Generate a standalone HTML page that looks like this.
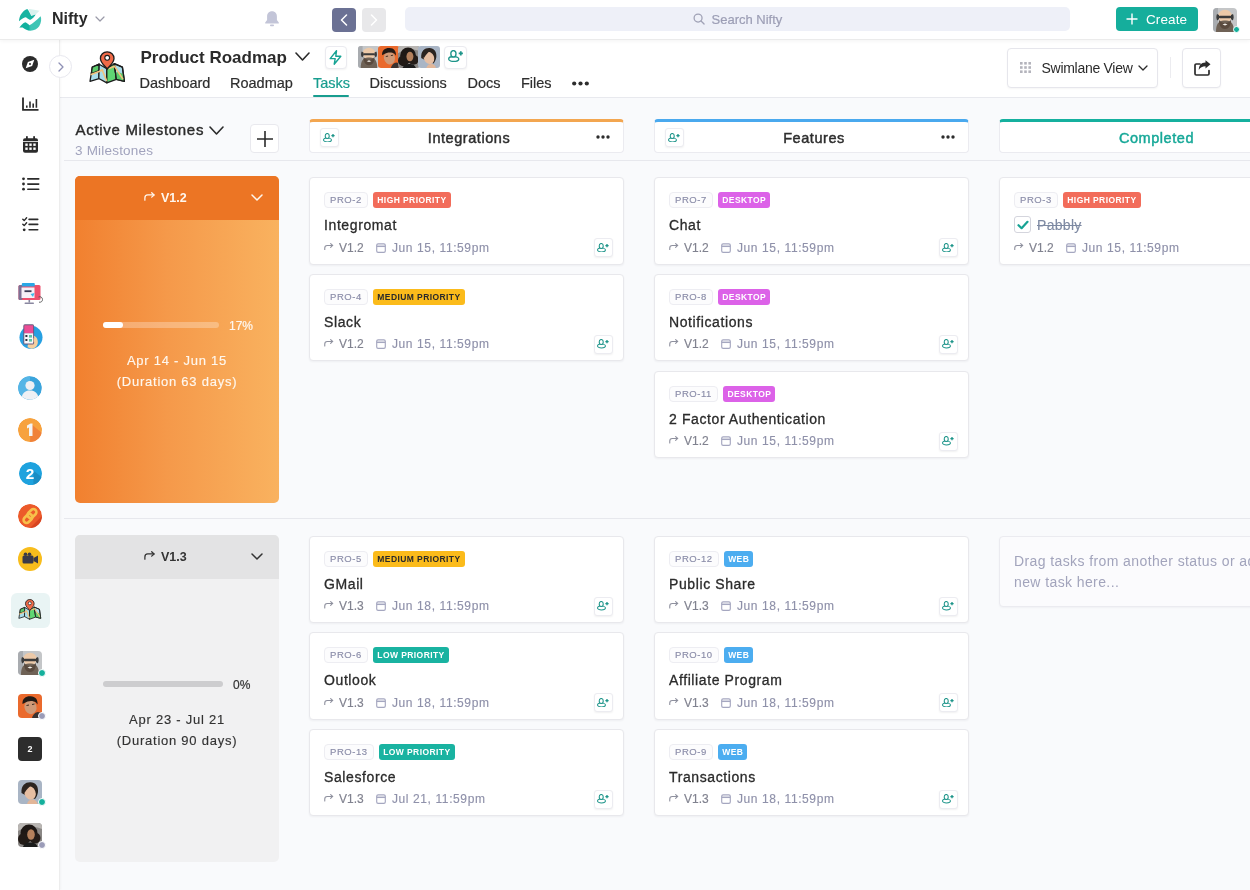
<!DOCTYPE html><html><head><meta charset="utf-8"><title>Nifty - Product Roadmap</title><style>
*{box-sizing:border-box;margin:0;padding:0}
svg{display:block}
html,body{width:1250px;height:890px;overflow:hidden}
body{background:#f9fafc;font-family:"Liberation Sans", Arial, sans-serif;color:#2d2d2d;position:relative}
.abs{position:absolute}
#top{position:absolute;left:0;top:0;width:1250px;height:38.5px;background:#fff;box-shadow:0 1px 0 #ebebeb,0 2px 4px rgba(0,0,0,.05);z-index:3}
#side{position:absolute;left:0;top:38px;width:59.5px;height:852px;background:#fff;border-right:1px solid #ededed;box-shadow:1px 0 2px rgba(0,0,0,.03);z-index:2}
#phdr{position:absolute;left:59px;top:38px;width:1191px;height:60px;background:#fff;border-bottom:1px solid #e8e9ee}
.card{position:absolute;width:315px;height:87.5px;background:#fff;border:1px solid #e8e8ec;border-radius:4px;box-shadow:0 1px 2px rgba(30,30,60,.05)}
.bdg{position:absolute;left:14px;top:14px;display:flex;gap:5.5px}
.pro{height:16px;padding:0 5px;border:1px solid #ededf2;background:#fcfcfd;border-radius:4px;font-size:9.5px;line-height:14px;color:#8a8ca8;letter-spacing:.55px;-webkit-text-stroke:.15px #8a8ca8}
.badge{height:16px;padding:0 4px;border-radius:3px;font-size:8.5px;line-height:16px;font-weight:700;letter-spacing:.42px}
.ttl{position:absolute;left:14px;top:39px;font-size:14px;line-height:16px;letter-spacing:.6px;color:#2b2b2b;white-space:nowrap;-webkit-text-stroke:.3px #2b2b2b}
.meta{position:absolute;left:14px;top:62.6px;height:14px;font-size:12px;line-height:14px;color:#8f91aa;white-space:nowrap;-webkit-text-stroke:.15px currentColor}
.meta span{position:absolute;top:0}
.ai{left:0;top:2px!important}
.ver{left:15px;letter-spacing:0;color:#80828f}
.ci{left:52px;top:2px!important}
.date{left:68px;letter-spacing:.6px}
.au{position:absolute;right:10px;top:60px;width:19px;height:19px;border:1px solid #ececf1;border-radius:3px;background:#fff;box-shadow:0 1px 2px rgba(0,0,0,.06);display:flex;align-items:center;justify-content:center}
.cb{position:absolute;left:0;top:-1px;width:17px;height:17px;border:1px solid #d4d5dd;border-radius:3px;display:flex;align-items:center;justify-content:center;background:#fff}
.done s{position:absolute;left:23px;color:#7d89a2;letter-spacing:.3px;-webkit-text-stroke:.1px #7d89a2}
.colh{position:absolute;top:119px;width:315px;height:34px;background:#fff;border:1px solid #ebebf0;border-top:3px solid;border-radius:4px;font-size:14.5px;font-weight:400;-webkit-text-stroke:.45px currentColor;text-align:center;line-height:29px;padding-top:2px;padding-left:5px;letter-spacing:.55px;color:#2e2e2e}
.colh .au2{position:absolute;left:10px;top:6px;width:19px;height:19px;border:1px solid #ececf1;border-radius:3px;background:#fff;box-shadow:0 1px 2px rgba(0,0,0,.06);display:flex;align-items:center;justify-content:center}
.colh .dots{position:absolute;right:13px;top:13px;width:14px;height:4px}
.hline{position:absolute;left:64px;width:1186px;height:1px;background:#e7e8ed}
.ms{position:absolute;left:75px;width:204px;height:327px;border-radius:5px;overflow:hidden}
.msh{position:absolute;left:0;top:0;width:204px;height:44px}
.msh .v{position:absolute;left:86px;top:15px;font-size:12.5px;font-weight:700;line-height:14px}
.msh .ar{position:absolute;left:69px;top:16px}
.msh .chev{position:absolute;left:176px;top:18px}
.pbar{position:absolute;left:28px;height:6px;border-radius:3px}
.pct{position:absolute;font-size:12px;line-height:12px;-webkit-text-stroke:.2px currentColor}
.dt{position:absolute;left:0;width:204px;text-align:center;font-size:13px;line-height:21px;letter-spacing:.75px;-webkit-text-stroke:.15px currentColor}
.nav{position:absolute;top:75px;font-size:14.5px;line-height:17px;color:#2e2e2e;white-space:nowrap;-webkit-text-stroke:.2px currentColor}
.sico{position:absolute;left:22px}
</style></head><body><div id="top"><svg class="abs" style="left:19px;top:9px" width="23" height="22" viewBox="0 0 23 22"><defs><linearGradient id="lg1" x1="0" x2="1" y1="0" y2="0"><stop offset="0.42" stop-color="#12b09e"/><stop offset="0.52" stop-color="#3fc5b5"/></linearGradient></defs><path d="M9.5 -0.3L20.5 1.8L16.6 5.4L12.4 6.7Z" fill="#d9f2ee"/><path d="M0 12.3C0.3 6.5 3.5 1.8 8.3 0C10 1.8 11.3 5 12.3 6.9C13.6 6.6 15 6 16.6 5.4C15.8 7.2 13.5 9.5 11.5 10.8C10.5 10.8 9.5 10.3 6.9 8.3C5.5 8.3 3 9.6 0 12.3Z" fill="#17b3a1"/><path d="M0.4 18.7C1.5 16.8 3.5 14.5 6.2 13.3C7.8 13.8 9 15 10.5 16.2C13.5 14.5 18 11 21.6 7.2C22.6 9.5 22.4 13.5 20.2 17.3C18.4 20 15.1 21.6 11.5 21.8C8.5 21.8 6 20.5 3.6 18.6C2.5 18.4 1.5 18.5 0.4 18.7Z" fill="url(#lg1)"/></svg><div class="abs" style="left:52px;top:10px;font-size:16px;font-weight:700;line-height:18px;color:#2a2a2a">Nifty</div><div class="abs" style="left:95px;top:16px"><svg width="10" height="6" viewBox="0 0 10 6" fill="none" stroke="#9a9aa8" stroke-width="1.2" stroke-linecap="round" stroke-linejoin="round"><path d="M1 1L5.0 5L9 1"/></svg></div><svg class="abs" style="left:264px;top:10px" width="16" height="17" viewBox="0 0 16 17"><path d="M8 1.2c-3 0-4.9 2.2-4.9 5.2v3.6L1.2 12.6v.8h13.6v-.8l-1.9-2.6V6.4C12.9 3.4 11 1.2 8 1.2z" fill="#c3c5d8"/><rect x="6" y="14.6" width="4" height="1.6" rx=".8" fill="#c3c5d8"/></svg><div class="abs" style="left:332px;top:8px;width:24px;height:24px;border-radius:4px;background:#6b7194"><svg class="abs" style="left:8px;top:6px" width="8" height="12" viewBox="0 0 8 12" fill="none" stroke="#fff" stroke-width="1.5" stroke-linecap="round" stroke-linejoin="round"><path d="M6.5 1L1.5 6L6.5 11"/></svg></div><div class="abs" style="left:362px;top:8px;width:24px;height:24px;border-radius:4px;background:#e8e8ea"><svg class="abs" style="left:8px;top:6px" width="8" height="12" viewBox="0 0 8 12" fill="none" stroke="#fff" stroke-width="1.5" stroke-linecap="round" stroke-linejoin="round"><path d="M1.5 1L6.5 6L1.5 11"/></svg></div><div class="abs" style="left:405px;top:7px;width:665px;height:24px;border-radius:5px;background:#eef0f8"></div><svg class="abs" style="left:692.5px;top:12.5px" width="12" height="12" viewBox="0 0 13 13" fill="none" stroke="#a0a2b6" stroke-width="1.4"><circle cx="5.5" cy="5.5" r="4.3"/><path d="M8.7 8.7L12 12" stroke-linecap="round"/></svg><div class="abs" style="left:711.5px;top:11.5px;font-size:13px;line-height:15px;color:#9c9eb5;-webkit-text-stroke:.2px #9c9eb5">Search Nifty</div><div class="abs" style="left:1116px;top:7px;width:82px;height:24px;border-radius:4px;background:#15ae9c"><svg class="abs" style="left:10px;top:6px" width="12" height="12" viewBox="0 0 12 12" stroke="#fff" stroke-width="1.4"><path d="M6 0.5V11.5M0.5 6H11.5"/></svg><div class="abs" style="left:30px;top:5px;font-size:13.5px;line-height:15px;color:#fff;letter-spacing:.1px">Create</div></div><div class="abs" style="left:1213px;top:8px;width:24px;height:24px;border-radius:4px;overflow:hidden"><svg width="24" height="24" viewBox="0 0 24 24"><rect width="24" height="24" fill="#c4c6c8"/><path d="M0 0H5V24H0Z" fill="#a9acb0"/><ellipse cx="12" cy="8" rx="6.8" ry="6.2" fill="#ecc9a8"/><path d="M3 24C3 16 5.5 12 12 12.5C18.5 12 21 16 21 24Z" fill="#6f6256"/><path d="M6 12C6 18 8.5 21 12 21C15.5 21 18 18 18 12C16 14.5 14 15 12 15C10 15 8 14.5 6 12Z" fill="#5a4a3e"/><rect x="5.5" y="7.8" width="13" height="2.4" rx="1.1" fill="#3b3b3b"/><path d="M4 6C3 8 3 11 4.5 12.5L6 11V7Z" fill="#3a3a3a"/><path d="M20 6C21 8 21 11 19.5 12.5L18 11V7Z" fill="#3a3a3a"/><path d="M9.5 16.5L12 15.5L14.5 16.5L12 17.5Z" fill="#f2efe9"/></svg></div><div class="abs" style="left:1233px;top:26px;width:7px;height:7px;border-radius:50%;background:#14b09c;border:1px solid #fff"></div></div><div id="side"></div><div style="position:absolute;left:0;top:0;z-index:4"><svg class="abs" style="left:22px;top:56px" width="16" height="16" viewBox="0 0 16 16"><circle cx="8" cy="8" r="8" fill="#2b2b2b"/><path d="M12.3 3.7L10.1 10.1L3.7 12.3L5.9 5.9Z" fill="#fff"/><circle cx="8" cy="8" r="1.0" fill="#2b2b2b"/></svg><div class="abs" style="z-index:5;left:48.5px;top:54.5px;width:23px;height:23px;border-radius:50%;background:#fff;border:1px solid #e8e8ef"><svg class="abs" style="left:8px;top:6px" width="6" height="10" viewBox="0 0 6 10" fill="none" stroke="#8e90b5" stroke-width="1.3" stroke-linecap="round" stroke-linejoin="round"><path d="M1 1L5 5L1 9"/></svg></div><svg class="abs" style="left:22px;top:97px" width="17" height="14" viewBox="0 0 17 14" fill="none" stroke="#2b2b2b"><path d="M1 0.5V12.8H16.5" stroke-width="1.8"/><path d="M4.8 8.5V10.8M8 4.5V10.8M11.2 6.5V10.8M14.4 2V10.8" stroke-width="1.6"/></svg><svg class="abs" style="left:23px;top:136px" width="15" height="17" viewBox="0 0 15 17"><rect x="0" y="2.2" width="15" height="14.5" rx="2" fill="#2b2b2b"/><rect x="3" y="0" width="1.8" height="4" rx=".8" fill="#2b2b2b"/><rect x="10.2" y="0" width="1.8" height="4" rx=".8" fill="#2b2b2b"/><rect x="0" y="5" width="15" height="0.8" fill="#fff"/><g fill="#fff"><rect x="2.3" y="7.5" width="2.4" height="2.4"/><rect x="6.3" y="7.5" width="2.4" height="2.4"/><rect x="10.3" y="7.5" width="2.4" height="2.4"/><rect x="2.3" y="11.5" width="2.4" height="2.4"/><rect x="6.3" y="11.5" width="2.4" height="2.4"/><rect x="10.3" y="11.5" width="2.4" height="2.4"/></g></svg><svg class="abs" style="left:21.5px;top:177px" width="18" height="14" viewBox="0 0 18 14"><g fill="#2b2b2b"><circle cx="1.5" cy="1.8" r="1.4"/><circle cx="1.5" cy="7" r="1.4"/><circle cx="1.5" cy="12.2" r="1.4"/><rect x="5" y="1" width="12.5" height="1.7" rx=".8"/><rect x="5" y="6.2" width="12.5" height="1.7" rx=".8"/><rect x="5" y="11.4" width="12.5" height="1.7" rx=".8"/></g></svg><svg class="abs" style="left:22px;top:217px" width="17" height="15" viewBox="0 0 17 15"><g fill="none" stroke="#2b2b2b" stroke-width="1.4" stroke-linecap="round" stroke-linejoin="round"><path d="M0.8 2.2L2.2 3.6L4.6 0.8"/><path d="M0.8 7.2L2.2 8.6L4.6 5.8"/></g><g fill="#2b2b2b"><circle cx="2.2" cy="12.8" r="1.4"/><rect x="6.3" y="1.5" width="10.2" height="1.7" rx=".8"/><rect x="6.3" y="6.6" width="10.2" height="1.7" rx=".8"/><rect x="6.3" y="11.9" width="10.2" height="1.7" rx=".8"/></g></svg><svg class="abs" style="left:17.5px;top:281px" width="26" height="24" viewBox="0 0 26 24"><rect x="0.5" y="4" width="22" height="15" rx="1.5" fill="#ee4f6d"/><rect x="0.5" y="4" width="4" height="15" rx="1.5" fill="#7d7094"/><rect x="3.5" y="6.5" width="13" height="10.5" fill="#f5f1f8"/><rect x="3.8" y="2" width="13" height="3.6" rx="1" fill="#2aa7e6"/><rect x="6.5" y="9.3" width="7" height="1.8" fill="#3b3b55"/><path d="M12.5 13L16.5 12L15 16Z" fill="#3db8ea"/><rect x="10.5" y="19" width="1.6" height="2.6" fill="#8a87a0"/><rect x="6.5" y="21.6" width="9.5" height="1.4" rx=".7" fill="#8a87a0"/><path d="M20.5 16C22.5 15 24.5 16.5 24.5 18.5C24.5 20.5 23 21.5 21 21.2" fill="none" stroke="#555" stroke-width=".9"/></svg><svg class="abs" style="left:18.5px;top:324px" width="24" height="25" viewBox="0 0 24 25"><circle cx="12" cy="13.3" r="11.5" fill="#27a0e2"/><path d="M5.5 6C3 8 2.3 12 2.6 15C3 18 5 21 7.5 22L9 19L6 7Z" fill="#ffffff" opacity=".0"/><path d="M13.5 11.5C16.5 11.5 19 14.5 18.8 18.5C18.5 22 16 24.5 12.5 24.8L8.5 23.2L10 13Z" fill="#f6cf9f"/><rect x="4.3" y="0.3" width="10.8" height="20.2" rx="1.6" fill="#6b5b7c"/><rect x="5.3" y="1.3" width="8.8" height="8" fill="#ec4d95"/><rect x="5.3" y="9.3" width="8.8" height="10.2" fill="#f7f7fb"/><g fill="#2f2f3a"><rect x="6.4" y="11" width="2" height="2"/><rect x="6.4" y="15" width="2" height="2"/></g><g fill="#5cc3a6"><rect x="10" y="11" width="3" height="2.6"/><rect x="10" y="15" width="3" height="2.6"/></g><path d="M14.5 14C16 14.5 16.5 16 16 17.5L14.5 18Z" fill="#f6cf9f"/></svg><svg class="abs" style="left:18px;top:376px" width="24" height="24" viewBox="0 0 24 24"><defs><clipPath id="pc"><circle cx="12" cy="12" r="11.8"/></clipPath></defs><g clip-path="url(#pc)"><circle cx="12" cy="12" r="12" fill="#3aa4dc"/><path d="M0 0H12V24H0Z" fill="#55b5e6"/><circle cx="12" cy="9.5" r="4.6" fill="#eef0f4"/><path d="M3.5 24C3.5 17 7 14.5 12 14.5C17 14.5 20.5 17 20.5 24Z" fill="#eef0f4"/></g></svg><svg class="abs" style="left:18px;top:418px" width="24" height="24" viewBox="0 0 24 24"><defs><clipPath id="c1"><circle cx="12" cy="12" r="12"/></clipPath></defs><g clip-path="url(#c1)"><circle cx="12" cy="12" r="12" fill="#f7a23e"/><path d="M13 6L24 15V24H12Z" fill="#f0823a"/><path d="M9 7.5L12.5 5.5H14.5V18H11V9.5L9 10.5Z" fill="#f4f4f4"/></g></svg><svg class="abs" style="left:18.5px;top:462px" width="23" height="23" viewBox="0 0 24 24"><defs><clipPath id="c2"><circle cx="12" cy="12" r="12"/></clipPath></defs><g clip-path="url(#c2)"><circle cx="12" cy="12" r="12" fill="#1ea2de"/><path d="M15 9L24 16V24H15Z" fill="#1a8dc4"/><text x="11.5" y="17.8" text-anchor="middle" font-family="Liberation Sans, sans-serif" font-weight="700" font-size="16" fill="#fff">2</text></g></svg><svg class="abs" style="left:18px;top:504px" width="24" height="24" viewBox="0 0 24 24"><defs><clipPath id="c3"><circle cx="12" cy="12" r="12"/></clipPath></defs><g clip-path="url(#c3)"><circle cx="12" cy="12" r="12" fill="#ec5a2a"/><path d="M12 24L24 12V24Z" fill="#d84420"/></g><g fill="none" stroke="#f7c04a" stroke-width="2.6"><rect x="11" y="4.5" width="6" height="10" rx="3" transform="rotate(45 14 9.5)"/><rect x="7" y="9.5" width="6" height="10" rx="3" transform="rotate(45 10 14.5)"/></g></svg><svg class="abs" style="left:18px;top:547px" width="24" height="24" viewBox="0 0 24 24"><circle cx="12" cy="12" r="12" fill="#f8bd1c"/><rect x="4.5" y="8.5" width="11" height="8" rx="1.5" fill="#3a3a48"/><path d="M15.5 11L20 8.5V16.5L15.5 14Z" fill="#3a3a48"/><circle cx="7.5" cy="7.2" r="1.8" fill="#3a3a48"/><circle cx="11.5" cy="7.2" r="1.8" fill="#3a3a48"/></svg><div class="abs" style="left:10.5px;top:593px;width:39px;height:35px;border-radius:6px;background:#e9f4f4"></div><div class="abs" style="left:18px;top:599px"><svg width="24" height="21" viewBox="0 0 37 33"><g stroke="#1d1d1d" stroke-width="1.3" stroke-linejoin="round"><path d="M3.3 16.2L10.2 13.2L10 27.6L1 30.4Z" fill="#a9dcea"/><path d="M3.3 16.2L10.2 13.2L10.1 19.5L2.4 22.5Z" fill="#5ccb6c"/><path d="M10.2 13.2L17.8 17.8L17.8 31.9L9.8 27.5Z" fill="#a9dcea"/><path d="M17.8 17.8L25.3 12.7L27.4 28.4L17.8 31.9Z" fill="#5fd673"/><path d="M25.3 12.7L33.4 16.2L35.4 30.4L27.4 28.4Z" fill="#a9dcea"/><path d="M29 21L34.3 23L35.4 30.4L27.4 28.4L26.5 22Z" fill="#5ccb6c" stroke="none"/><path d="M25.3 12.7L33.4 16.2L35.4 30.4L27.4 28.4Z" fill="none"/></g><g fill="none" stroke="#f2c27b" stroke-width="1.6" stroke-linecap="round"><path d="M2.2 23.5L10 20.5L13.5 19"/><path d="M13 18.5L17.5 29.5"/><path d="M20 17.5L25.6 15.2L33.6 27.6"/></g><path d="M18.2 0.8C14.3 0.8 11.4 3.6 11.4 7.4C11.4 11.4 15.6 14.8 18.2 18C20.8 14.8 25 11.4 25 7.4C25 3.6 22.1 0.8 18.2 0.8Z" fill="#f06a48" stroke="#1d1d1d" stroke-width="1.3"/><circle cx="18.2" cy="6.8" r="2.4" fill="#fff" stroke="#1d1d1d" stroke-width="1.1"/></svg></div><div class="abs" style="left:18px;top:651px;width:24px;height:24px;border-radius:4px;overflow:hidden"><svg width="24" height="24" viewBox="0 0 24 24"><rect width="24" height="24" fill="#c4c6c8"/><path d="M0 0H5V24H0Z" fill="#a9acb0"/><ellipse cx="12" cy="8" rx="6.8" ry="6.2" fill="#ecc9a8"/><path d="M3 24C3 16 5.5 12 12 12.5C18.5 12 21 16 21 24Z" fill="#6f6256"/><path d="M6 12C6 18 8.5 21 12 21C15.5 21 18 18 18 12C16 14.5 14 15 12 15C10 15 8 14.5 6 12Z" fill="#5a4a3e"/><rect x="5.5" y="7.8" width="13" height="2.4" rx="1.1" fill="#3b3b3b"/><path d="M4 6C3 8 3 11 4.5 12.5L6 11V7Z" fill="#3a3a3a"/><path d="M20 6C21 8 21 11 19.5 12.5L18 11V7Z" fill="#3a3a3a"/><path d="M9.5 16.5L12 15.5L14.5 16.5L12 17.5Z" fill="#f2efe9"/></svg></div><div class="abs" style="left:38px;top:669px;width:8px;height:8px;border-radius:50%;background:#14b09c;border:1px solid #fff"></div><div class="abs" style="left:18px;top:694px;width:24px;height:24px;border-radius:4px;overflow:hidden"><svg width="24" height="24" viewBox="0 0 24 24"><rect width="24" height="24" fill="#ea6a2d"/><ellipse cx="12.5" cy="13" rx="6" ry="7.2" fill="#cf9a78" transform="rotate(-12 12.5 13)"/><path d="M4.5 10C4 4.5 8 2 12.5 2.2C17.5 2.4 20 5.5 19.5 10.5L18 8.5C15 6.3 10 6.5 6.5 9Z" fill="#231a15"/><path d="M14 24C15 20 17.5 18.5 20 18L24 19V24Z" fill="#3a3330"/><path d="M8.5 11.5L11 11M14 10.5L16.5 10" stroke="#3a2a20" stroke-width="1"/></svg></div><div class="abs" style="left:38px;top:712px;width:8px;height:8px;border-radius:50%;background:#9b9cb8;border:1px solid #fff"></div><div class="abs" style="left:18px;top:737px;width:24px;height:24px;border-radius:4px;background:#2d2d2d;color:#fff;font-size:9px;font-weight:700;text-align:center;line-height:24px">2</div><div class="abs" style="left:18px;top:780px;width:24px;height:24px;border-radius:4px;overflow:hidden"><svg width="24" height="24" viewBox="0 0 24 24"><rect width="24" height="24" fill="#a9b5c5"/><path d="M3.5 13C3 5 7.5 2 12.5 2.2C17.5 2.4 20.5 6 20 12C19.5 15 18.5 17 17 19L9 16Z" fill="#2b2420"/><ellipse cx="12" cy="13" rx="5.6" ry="6.8" fill="#e6bea2" transform="rotate(-22 12 13)"/><path d="M9 24C10 20.5 12 19.5 14.5 19.5C17 19.5 19 21 19.5 24Z" fill="#e2b698"/><path d="M5 11C6.5 6.5 9.5 5 13.5 5.2C11 7 8.5 9.5 6.5 13Z" fill="#2b2420"/></svg></div><div class="abs" style="left:38px;top:798px;width:8px;height:8px;border-radius:50%;background:#14b09c;border:1px solid #fff"></div><div class="abs" style="left:18px;top:823px;width:24px;height:24px;border-radius:4px;overflow:hidden"><svg width="24" height="24" viewBox="0 0 24 24"><rect width="24" height="24" fill="#8a8785"/><path d="M0 0H24V6C18 3 8 3 0 8Z" fill="#b9b6b3"/><circle cx="11" cy="10" r="8.5" fill="#1e1815"/><circle cx="6" cy="16" r="6" fill="#211a16"/><circle cx="17" cy="15" r="5.5" fill="#241c18"/><ellipse cx="13" cy="11.5" rx="3.8" ry="5.2" fill="#b4805c"/><path d="M5 24C6 20.5 9 19.5 12.5 19.5C16 19.5 18.5 20.5 19.5 24Z" fill="#1a1a1a"/></svg></div><div class="abs" style="left:38px;top:841px;width:8px;height:8px;border-radius:50%;background:#9b9cb8;border:1px solid #fff"></div></div><div id="phdr"></div><div class="abs" style="left:89px;top:51px"><svg width="37" height="33" viewBox="0 0 37 33"><g stroke="#1d1d1d" stroke-width="1.3" stroke-linejoin="round"><path d="M3.3 16.2L10.2 13.2L10 27.6L1 30.4Z" fill="#a9dcea"/><path d="M3.3 16.2L10.2 13.2L10.1 19.5L2.4 22.5Z" fill="#5ccb6c"/><path d="M10.2 13.2L17.8 17.8L17.8 31.9L9.8 27.5Z" fill="#a9dcea"/><path d="M17.8 17.8L25.3 12.7L27.4 28.4L17.8 31.9Z" fill="#5fd673"/><path d="M25.3 12.7L33.4 16.2L35.4 30.4L27.4 28.4Z" fill="#a9dcea"/><path d="M29 21L34.3 23L35.4 30.4L27.4 28.4L26.5 22Z" fill="#5ccb6c" stroke="none"/><path d="M25.3 12.7L33.4 16.2L35.4 30.4L27.4 28.4Z" fill="none"/></g><g fill="none" stroke="#f2c27b" stroke-width="1.6" stroke-linecap="round"><path d="M2.2 23.5L10 20.5L13.5 19"/><path d="M13 18.5L17.5 29.5"/><path d="M20 17.5L25.6 15.2L33.6 27.6"/></g><path d="M18.2 0.8C14.3 0.8 11.4 3.6 11.4 7.4C11.4 11.4 15.6 14.8 18.2 18C20.8 14.8 25 11.4 25 7.4C25 3.6 22.1 0.8 18.2 0.8Z" fill="#f06a48" stroke="#1d1d1d" stroke-width="1.3"/><circle cx="18.2" cy="6.8" r="2.4" fill="#fff" stroke="#1d1d1d" stroke-width="1.1"/></svg></div><div class="abs" style="left:324.5px;top:46px;width:22.5px;height:23px;border:1px solid #ebebf0;border-radius:4px;background:#fff;box-shadow:0 1px 2px rgba(0,0,0,.05)"><svg class="abs" style="left:3.5px;top:3px" width="13" height="15" viewBox="0 0 13 15" fill="none" stroke="#16a394" stroke-width="1.4" stroke-linejoin="round"><path d="M7.5 0.8L1.2 8.6H6.2L5.2 14.2L11.8 6.2H6.8Z"/></svg></div><div class="abs" style="left:358px;top:46px;width:22px;height:22px;border-radius:3px;overflow:hidden;border:0 solid #fff"><svg width="22" height="22" viewBox="0 0 24 24"><rect width="24" height="24" fill="#c4c6c8"/><path d="M0 0H5V24H0Z" fill="#a9acb0"/><ellipse cx="12" cy="8" rx="6.8" ry="6.2" fill="#ecc9a8"/><path d="M3 24C3 16 5.5 12 12 12.5C18.5 12 21 16 21 24Z" fill="#6f6256"/><path d="M6 12C6 18 8.5 21 12 21C15.5 21 18 18 18 12C16 14.5 14 15 12 15C10 15 8 14.5 6 12Z" fill="#5a4a3e"/><rect x="5.5" y="7.8" width="13" height="2.4" rx="1.1" fill="#3b3b3b"/><path d="M4 6C3 8 3 11 4.5 12.5L6 11V7Z" fill="#3a3a3a"/><path d="M20 6C21 8 21 11 19.5 12.5L18 11V7Z" fill="#3a3a3a"/><path d="M9.5 16.5L12 15.5L14.5 16.5L12 17.5Z" fill="#f2efe9"/></svg></div><div class="abs" style="left:378px;top:46px;width:22px;height:22px;border-radius:3px;overflow:hidden;border:0 solid #fff"><svg width="22" height="22" viewBox="0 0 24 24"><rect width="24" height="24" fill="#ea6a2d"/><ellipse cx="12.5" cy="13" rx="6" ry="7.2" fill="#cf9a78" transform="rotate(-12 12.5 13)"/><path d="M4.5 10C4 4.5 8 2 12.5 2.2C17.5 2.4 20 5.5 19.5 10.5L18 8.5C15 6.3 10 6.5 6.5 9Z" fill="#231a15"/><path d="M14 24C15 20 17.5 18.5 20 18L24 19V24Z" fill="#3a3330"/><path d="M8.5 11.5L11 11M14 10.5L16.5 10" stroke="#3a2a20" stroke-width="1"/></svg></div><div class="abs" style="left:398px;top:46px;width:22px;height:22px;border-radius:3px;overflow:hidden;border:0 solid #fff"><svg width="22" height="22" viewBox="0 0 24 24"><rect width="24" height="24" fill="#8a8785"/><path d="M0 0H24V6C18 3 8 3 0 8Z" fill="#b9b6b3"/><circle cx="11" cy="10" r="8.5" fill="#1e1815"/><circle cx="6" cy="16" r="6" fill="#211a16"/><circle cx="17" cy="15" r="5.5" fill="#241c18"/><ellipse cx="13" cy="11.5" rx="3.8" ry="5.2" fill="#b4805c"/><path d="M5 24C6 20.5 9 19.5 12.5 19.5C16 19.5 18.5 20.5 19.5 24Z" fill="#1a1a1a"/></svg></div><div class="abs" style="left:418px;top:46px;width:22px;height:22px;border-radius:3px;overflow:hidden;border:0 solid #fff"><svg width="22" height="22" viewBox="0 0 24 24"><rect width="24" height="24" fill="#a9b5c5"/><path d="M3.5 13C3 5 7.5 2 12.5 2.2C17.5 2.4 20.5 6 20 12C19.5 15 18.5 17 17 19L9 16Z" fill="#2b2420"/><ellipse cx="12" cy="13" rx="5.6" ry="6.8" fill="#e6bea2" transform="rotate(-22 12 13)"/><path d="M9 24C10 20.5 12 19.5 14.5 19.5C17 19.5 19 21 19.5 24Z" fill="#e2b698"/><path d="M5 11C6.5 6.5 9.5 5 13.5 5.2C11 7 8.5 9.5 6.5 13Z" fill="#2b2420"/></svg></div><div class="abs" style="left:444px;top:46px;width:23px;height:23px;border:1px solid #ebebf0;border-radius:4px;background:#fff;box-shadow:0 1px 2px rgba(0,0,0,.05)"><div class="abs" style="left:3px;top:3px"><svg width="16.0" height="12.3" viewBox="0 0 13 10" fill="none" stroke="#1e958a" stroke-width="1.1"><ellipse cx="4.65" cy="7.3" rx="4.1" ry="2.0"/><ellipse cx="4.4" cy="3.1" rx="2.1" ry="2.6" fill="#fff"/><path d="M10.4 1.0V4.4M8.7 2.7H12.1" stroke-width="1.4"/></svg></div></div><div class="abs" style="left:1007px;top:48px;width:151px;height:40px;border:1px solid #e6e6ec;border-radius:4px;background:#fff;box-shadow:0 1px 2px rgba(0,0,0,.04)"></div><svg class="abs" style="left:1020px;top:62px" width="11" height="11" viewBox="0 0 11 11" fill="#b4b4bc"><rect x="0" y="0" width="2.6" height="2.6"/><rect x="4.2" y="0" width="2.6" height="2.6"/><rect x="8.4" y="0" width="2.6" height="2.6"/><rect x="0" y="4.2" width="2.6" height="2.6"/><rect x="4.2" y="4.2" width="2.6" height="2.6"/><rect x="8.4" y="4.2" width="2.6" height="2.6"/><rect x="0" y="8.4" width="2.6" height="2.6"/><rect x="4.2" y="8.4" width="2.6" height="2.6"/><rect x="8.4" y="8.4" width="2.6" height="2.6"/></svg><div class="abs" style="left:1041.5px;top:60px;font-size:14px;line-height:17px;color:#2b2b2b;letter-spacing:-.28px">Swimlane View</div><div class="abs" style="left:1138px;top:65px"><svg width="10" height="6" viewBox="0 0 10 6" fill="none" stroke="#2b2b2b" stroke-width="1.3" stroke-linecap="round" stroke-linejoin="round"><path d="M1 1L5.0 5L9 1"/></svg></div><div class="abs" style="left:1170px;top:57px;width:1px;height:21px;background:#ececf0"></div><div class="abs" style="left:1182px;top:48px;width:39px;height:40px;border:1px solid #e6e6ec;border-radius:4px;background:#fff;box-shadow:0 1px 2px rgba(0,0,0,.04)"><svg class="abs" style="left:11px;top:11px" width="17" height="16" viewBox="0 0 17 16"><path d="M6 4H2.2C1.5 4 1 4.5 1 5.2V13.8C1 14.5 1.5 15 2.2 15H13.8C14.5 15 15 14.5 15 13.8V10.5" fill="none" stroke="#2b2b2b" stroke-width="1.7" stroke-linecap="round"/><path d="M16.5 4.2L11.5 0.3V2.4C7 2.6 4.8 5.2 4.8 10C6.2 7.5 8.3 6.3 11.5 6.3V8.4Z" fill="#2b2b2b"/></svg></div><div class="abs" style="left:140.5px;top:48px;font-size:17px;font-weight:700;line-height:20px;color:#2b2b2b;letter-spacing:0">Product Roadmap</div><div class="abs" style="left:295px;top:52px"><svg width="15" height="9" viewBox="0 0 15 9" fill="none" stroke="#2b2b2b" stroke-width="1.6" stroke-linecap="round" stroke-linejoin="round"><path d="M1 1L7.5 8L14 1"/></svg></div><div class="nav" style="left:139.5px;color:#2e2e2e">Dashboard</div><div class="nav" style="left:230px;color:#2e2e2e">Roadmap</div><div class="nav" style="left:313px;color:#189d8f">Tasks</div><div class="nav" style="left:369.5px;color:#2e2e2e">Discussions</div><div class="nav" style="left:467.5px;color:#2e2e2e">Docs</div><div class="nav" style="left:521px;color:#2e2e2e">Files</div><div class="abs" style="left:313px;top:95px;width:36px;height:2px;background:#189d8f;border-radius:1px"></div><svg class="abs" style="left:572px;top:80.5px" width="17" height="5" viewBox="0 0 17 5"><g fill="#2d2d2d"><circle cx="2.2" cy="2.5" r="2.1"/><circle cx="8.5" cy="2.5" r="2.1"/><circle cx="14.8" cy="2.5" r="2.1"/></g></svg><div class="hline" style="top:160px"></div><div class="hline" style="top:518px"></div><div class="abs" style="left:75.5px;top:121px;font-size:15px;font-weight:400;line-height:17px;color:#2b2b2b;letter-spacing:.7px;-webkit-text-stroke:.4px #2b2b2b">Active Milestones</div><div class="abs" style="left:209px;top:126px"><svg width="15" height="9" viewBox="0 0 15 9" fill="none" stroke="#2b2b2b" stroke-width="1.6" stroke-linecap="round" stroke-linejoin="round"><path d="M1 1L7.5 8L14 1"/></svg></div><div class="abs" style="left:75px;top:143px;font-size:13.5px;line-height:15px;color:#a1a3bd;letter-spacing:.2px">3 Milestones</div><div class="abs" style="left:250px;top:124px;width:29px;height:29px;border:1px solid #e9e9ee;border-radius:4px;background:#fff"><svg class="abs" style="left:6px;top:6px" width="16" height="16" viewBox="0 0 16 16" stroke="#2b2b2b" stroke-width="1.6"><path d="M8 0V16M0 8H16"/></svg></div><div class="colh" style="left:309px;border-top-color:#f3a650;"><div class="au2"><svg width="12.5" height="9.6" viewBox="0 0 13 10" fill="none" stroke="#1e958a" stroke-width="1.1"><ellipse cx="4.65" cy="7.3" rx="4.1" ry="2.0"/><ellipse cx="4.4" cy="3.1" rx="2.1" ry="2.6" fill="#fff"/><path d="M10.4 1.0V4.4M8.7 2.7H12.1" stroke-width="1.4"/></svg></div>Integrations<div class="dots"><svg width="14" height="4" viewBox="0 0 14 4"><circle cx="2" cy="2" r="1.7" fill="#2d2d2d"/><circle cx="7" cy="2" r="1.7" fill="#2d2d2d"/><circle cx="12" cy="2" r="1.7" fill="#2d2d2d"/></svg></div></div><div class="colh" style="left:654px;border-top-color:#4aa9ee;"><div class="au2"><svg width="12.5" height="9.6" viewBox="0 0 13 10" fill="none" stroke="#1e958a" stroke-width="1.1"><ellipse cx="4.65" cy="7.3" rx="4.1" ry="2.0"/><ellipse cx="4.4" cy="3.1" rx="2.1" ry="2.6" fill="#fff"/><path d="M10.4 1.0V4.4M8.7 2.7H12.1" stroke-width="1.4"/></svg></div>Features<div class="dots"><svg width="14" height="4" viewBox="0 0 14 4"><circle cx="2" cy="2" r="1.7" fill="#2d2d2d"/><circle cx="7" cy="2" r="1.7" fill="#2d2d2d"/><circle cx="12" cy="2" r="1.7" fill="#2d2d2d"/></svg></div></div><div class="colh" style="left:999px;border-top-color:#15b09e;color:#16a898;padding-left:0;">Completed</div><div class="ms" style="top:176px;background:linear-gradient(90deg,#f1802f 0%,#f5994a 45%,#f9b25f 100%)"><div class="msh" style="background:#ec7524;color:#fff7ee"><span class="ar"><svg width="11" height="9" viewBox="0 0 10 8" fill="none" stroke="#fff7ee" stroke-width="1.15" stroke-linecap="round" stroke-linejoin="round"><path d="M0.8 7.3V5.3C0.8 3.6 1.8 2.6 3.4 2.6H9.1"/><path d="M7 0.6L9.1 2.6L7 4.6"/></svg></span><span class="v">V1.2</span><span class="chev"><svg width="12" height="7" viewBox="0 0 12 7" fill="none" stroke="#fff7ee" stroke-width="1.5" stroke-linecap="round" stroke-linejoin="round"><path d="M1 1L6.0 6L11 1"/></svg></span></div><div class="pbar" style="top:146px;width:116px;background:rgba(255,255,255,.28)"></div><div class="pbar" style="top:146px;width:20px;background:#fff"></div><div class="pct" style="left:154px;top:144px;color:#fff7ee">17%</div><div class="dt" style="top:174px;color:#fff7ee">Apr 14 - Jun 15<br>(Duration 63 days)</div></div><div class="ms" style="top:535px;background:#f1f1f2"><div class="msh" style="background:#e3e3e4;color:#333"><span class="ar"><svg width="11" height="9" viewBox="0 0 10 8" fill="none" stroke="#333" stroke-width="1.15" stroke-linecap="round" stroke-linejoin="round"><path d="M0.8 7.3V5.3C0.8 3.6 1.8 2.6 3.4 2.6H9.1"/><path d="M7 0.6L9.1 2.6L7 4.6"/></svg></span><span class="v">V1.3</span><span class="chev"><svg width="12" height="7" viewBox="0 0 12 7" fill="none" stroke="#333" stroke-width="1.5" stroke-linecap="round" stroke-linejoin="round"><path d="M1 1L6.0 6L11 1"/></svg></span></div><div class="pbar" style="top:146px;width:120px;background:#cdcdcf"></div><div class="pbar" style="top:146px;width:0px;background:#cdcdcf"></div><div class="pct" style="left:158px;top:144px;color:#333">0%</div><div class="dt" style="top:174px;color:#333">Apr 23 - Jul 21<br>(Duration 90 days)</div></div><div class="card" style="left:309px;top:177.2px"><div class="bdg"><div class="pro">PRO-2</div><div class="badge" style="background:#f26c5a;color:#fff">HIGH PRIORITY</div></div><div class="ttl">Integromat</div><div class="meta"><span class="ai"><svg width="9.5" height="7.6" viewBox="0 0 10 8" fill="none" stroke="#8e909e" stroke-width="1.15" stroke-linecap="round" stroke-linejoin="round"><path d="M0.8 7.3V5.3C0.8 3.6 1.8 2.6 3.4 2.6H9.1"/><path d="M7 0.6L9.1 2.6L7 4.6"/></svg></span><span class="ver">V1.2</span><span class="ci"><svg width="10" height="10" viewBox="0 0 10 10" fill="none" stroke="#a5a7c0" stroke-width="1.15"><rect x="0.7" y="0.9" width="8.6" height="8.4" rx="1.4"/><path d="M0.7 3.3H9.3" stroke-width="1.5"/></svg></span><span class="date">Jun 15, 11:59pm</span></div><div class="au"><svg width="12.5" height="9.6" viewBox="0 0 13 10" fill="none" stroke="#1e958a" stroke-width="1.1"><ellipse cx="4.65" cy="7.3" rx="4.1" ry="2.0"/><ellipse cx="4.4" cy="3.1" rx="2.1" ry="2.6" fill="#fff"/><path d="M10.4 1.0V4.4M8.7 2.7H12.1" stroke-width="1.4"/></svg></div></div><div class="card" style="left:309px;top:273.7px"><div class="bdg"><div class="pro">PRO-4</div><div class="badge" style="background:#fbbb1b;color:#2a2a2a">MEDIUM PRIORITY</div></div><div class="ttl">Slack</div><div class="meta"><span class="ai"><svg width="9.5" height="7.6" viewBox="0 0 10 8" fill="none" stroke="#8e909e" stroke-width="1.15" stroke-linecap="round" stroke-linejoin="round"><path d="M0.8 7.3V5.3C0.8 3.6 1.8 2.6 3.4 2.6H9.1"/><path d="M7 0.6L9.1 2.6L7 4.6"/></svg></span><span class="ver">V1.2</span><span class="ci"><svg width="10" height="10" viewBox="0 0 10 10" fill="none" stroke="#a5a7c0" stroke-width="1.15"><rect x="0.7" y="0.9" width="8.6" height="8.4" rx="1.4"/><path d="M0.7 3.3H9.3" stroke-width="1.5"/></svg></span><span class="date">Jun 15, 11:59pm</span></div><div class="au"><svg width="12.5" height="9.6" viewBox="0 0 13 10" fill="none" stroke="#1e958a" stroke-width="1.1"><ellipse cx="4.65" cy="7.3" rx="4.1" ry="2.0"/><ellipse cx="4.4" cy="3.1" rx="2.1" ry="2.6" fill="#fff"/><path d="M10.4 1.0V4.4M8.7 2.7H12.1" stroke-width="1.4"/></svg></div></div><div class="card" style="left:654px;top:177.2px"><div class="bdg"><div class="pro">PRO-7</div><div class="badge" style="background:#dc62e8;color:#fff">DESKTOP</div></div><div class="ttl">Chat</div><div class="meta"><span class="ai"><svg width="9.5" height="7.6" viewBox="0 0 10 8" fill="none" stroke="#8e909e" stroke-width="1.15" stroke-linecap="round" stroke-linejoin="round"><path d="M0.8 7.3V5.3C0.8 3.6 1.8 2.6 3.4 2.6H9.1"/><path d="M7 0.6L9.1 2.6L7 4.6"/></svg></span><span class="ver">V1.2</span><span class="ci"><svg width="10" height="10" viewBox="0 0 10 10" fill="none" stroke="#a5a7c0" stroke-width="1.15"><rect x="0.7" y="0.9" width="8.6" height="8.4" rx="1.4"/><path d="M0.7 3.3H9.3" stroke-width="1.5"/></svg></span><span class="date">Jun 15, 11:59pm</span></div><div class="au"><svg width="12.5" height="9.6" viewBox="0 0 13 10" fill="none" stroke="#1e958a" stroke-width="1.1"><ellipse cx="4.65" cy="7.3" rx="4.1" ry="2.0"/><ellipse cx="4.4" cy="3.1" rx="2.1" ry="2.6" fill="#fff"/><path d="M10.4 1.0V4.4M8.7 2.7H12.1" stroke-width="1.4"/></svg></div></div><div class="card" style="left:654px;top:273.7px"><div class="bdg"><div class="pro">PRO-8</div><div class="badge" style="background:#dc62e8;color:#fff">DESKTOP</div></div><div class="ttl">Notifications</div><div class="meta"><span class="ai"><svg width="9.5" height="7.6" viewBox="0 0 10 8" fill="none" stroke="#8e909e" stroke-width="1.15" stroke-linecap="round" stroke-linejoin="round"><path d="M0.8 7.3V5.3C0.8 3.6 1.8 2.6 3.4 2.6H9.1"/><path d="M7 0.6L9.1 2.6L7 4.6"/></svg></span><span class="ver">V1.2</span><span class="ci"><svg width="10" height="10" viewBox="0 0 10 10" fill="none" stroke="#a5a7c0" stroke-width="1.15"><rect x="0.7" y="0.9" width="8.6" height="8.4" rx="1.4"/><path d="M0.7 3.3H9.3" stroke-width="1.5"/></svg></span><span class="date">Jun 15, 11:59pm</span></div><div class="au"><svg width="12.5" height="9.6" viewBox="0 0 13 10" fill="none" stroke="#1e958a" stroke-width="1.1"><ellipse cx="4.65" cy="7.3" rx="4.1" ry="2.0"/><ellipse cx="4.4" cy="3.1" rx="2.1" ry="2.6" fill="#fff"/><path d="M10.4 1.0V4.4M8.7 2.7H12.1" stroke-width="1.4"/></svg></div></div><div class="card" style="left:654px;top:370.5px"><div class="bdg"><div class="pro">PRO-11</div><div class="badge" style="background:#dc62e8;color:#fff">DESKTOP</div></div><div class="ttl">2 Factor Authentication</div><div class="meta"><span class="ai"><svg width="9.5" height="7.6" viewBox="0 0 10 8" fill="none" stroke="#8e909e" stroke-width="1.15" stroke-linecap="round" stroke-linejoin="round"><path d="M0.8 7.3V5.3C0.8 3.6 1.8 2.6 3.4 2.6H9.1"/><path d="M7 0.6L9.1 2.6L7 4.6"/></svg></span><span class="ver">V1.2</span><span class="ci"><svg width="10" height="10" viewBox="0 0 10 10" fill="none" stroke="#a5a7c0" stroke-width="1.15"><rect x="0.7" y="0.9" width="8.6" height="8.4" rx="1.4"/><path d="M0.7 3.3H9.3" stroke-width="1.5"/></svg></span><span class="date">Jun 15, 11:59pm</span></div><div class="au"><svg width="12.5" height="9.6" viewBox="0 0 13 10" fill="none" stroke="#1e958a" stroke-width="1.1"><ellipse cx="4.65" cy="7.3" rx="4.1" ry="2.0"/><ellipse cx="4.4" cy="3.1" rx="2.1" ry="2.6" fill="#fff"/><path d="M10.4 1.0V4.4M8.7 2.7H12.1" stroke-width="1.4"/></svg></div></div><div class="card" style="left:309px;top:535.7px"><div class="bdg"><div class="pro">PRO-5</div><div class="badge" style="background:#fbbb1b;color:#2a2a2a">MEDIUM PRIORITY</div></div><div class="ttl">GMail</div><div class="meta"><span class="ai"><svg width="9.5" height="7.6" viewBox="0 0 10 8" fill="none" stroke="#8e909e" stroke-width="1.15" stroke-linecap="round" stroke-linejoin="round"><path d="M0.8 7.3V5.3C0.8 3.6 1.8 2.6 3.4 2.6H9.1"/><path d="M7 0.6L9.1 2.6L7 4.6"/></svg></span><span class="ver">V1.3</span><span class="ci"><svg width="10" height="10" viewBox="0 0 10 10" fill="none" stroke="#a5a7c0" stroke-width="1.15"><rect x="0.7" y="0.9" width="8.6" height="8.4" rx="1.4"/><path d="M0.7 3.3H9.3" stroke-width="1.5"/></svg></span><span class="date">Jun 18, 11:59pm</span></div><div class="au"><svg width="12.5" height="9.6" viewBox="0 0 13 10" fill="none" stroke="#1e958a" stroke-width="1.1"><ellipse cx="4.65" cy="7.3" rx="4.1" ry="2.0"/><ellipse cx="4.4" cy="3.1" rx="2.1" ry="2.6" fill="#fff"/><path d="M10.4 1.0V4.4M8.7 2.7H12.1" stroke-width="1.4"/></svg></div></div><div class="card" style="left:309px;top:632.2px"><div class="bdg"><div class="pro">PRO-6</div><div class="badge" style="background:#19b3a1;color:#fff">LOW PRIORITY</div></div><div class="ttl">Outlook</div><div class="meta"><span class="ai"><svg width="9.5" height="7.6" viewBox="0 0 10 8" fill="none" stroke="#8e909e" stroke-width="1.15" stroke-linecap="round" stroke-linejoin="round"><path d="M0.8 7.3V5.3C0.8 3.6 1.8 2.6 3.4 2.6H9.1"/><path d="M7 0.6L9.1 2.6L7 4.6"/></svg></span><span class="ver">V1.3</span><span class="ci"><svg width="10" height="10" viewBox="0 0 10 10" fill="none" stroke="#a5a7c0" stroke-width="1.15"><rect x="0.7" y="0.9" width="8.6" height="8.4" rx="1.4"/><path d="M0.7 3.3H9.3" stroke-width="1.5"/></svg></span><span class="date">Jun 18, 11:59pm</span></div><div class="au"><svg width="12.5" height="9.6" viewBox="0 0 13 10" fill="none" stroke="#1e958a" stroke-width="1.1"><ellipse cx="4.65" cy="7.3" rx="4.1" ry="2.0"/><ellipse cx="4.4" cy="3.1" rx="2.1" ry="2.6" fill="#fff"/><path d="M10.4 1.0V4.4M8.7 2.7H12.1" stroke-width="1.4"/></svg></div></div><div class="card" style="left:309px;top:728.7px"><div class="bdg"><div class="pro">PRO-13</div><div class="badge" style="background:#19b3a1;color:#fff">LOW PRIORITY</div></div><div class="ttl">Salesforce</div><div class="meta"><span class="ai"><svg width="9.5" height="7.6" viewBox="0 0 10 8" fill="none" stroke="#8e909e" stroke-width="1.15" stroke-linecap="round" stroke-linejoin="round"><path d="M0.8 7.3V5.3C0.8 3.6 1.8 2.6 3.4 2.6H9.1"/><path d="M7 0.6L9.1 2.6L7 4.6"/></svg></span><span class="ver">V1.3</span><span class="ci"><svg width="10" height="10" viewBox="0 0 10 10" fill="none" stroke="#a5a7c0" stroke-width="1.15"><rect x="0.7" y="0.9" width="8.6" height="8.4" rx="1.4"/><path d="M0.7 3.3H9.3" stroke-width="1.5"/></svg></span><span class="date">Jul 21, 11:59pm</span></div><div class="au"><svg width="12.5" height="9.6" viewBox="0 0 13 10" fill="none" stroke="#1e958a" stroke-width="1.1"><ellipse cx="4.65" cy="7.3" rx="4.1" ry="2.0"/><ellipse cx="4.4" cy="3.1" rx="2.1" ry="2.6" fill="#fff"/><path d="M10.4 1.0V4.4M8.7 2.7H12.1" stroke-width="1.4"/></svg></div></div><div class="card" style="left:654px;top:535.7px"><div class="bdg"><div class="pro">PRO-12</div><div class="badge" style="background:#4cadf0;color:#fff">WEB</div></div><div class="ttl">Public Share</div><div class="meta"><span class="ai"><svg width="9.5" height="7.6" viewBox="0 0 10 8" fill="none" stroke="#8e909e" stroke-width="1.15" stroke-linecap="round" stroke-linejoin="round"><path d="M0.8 7.3V5.3C0.8 3.6 1.8 2.6 3.4 2.6H9.1"/><path d="M7 0.6L9.1 2.6L7 4.6"/></svg></span><span class="ver">V1.3</span><span class="ci"><svg width="10" height="10" viewBox="0 0 10 10" fill="none" stroke="#a5a7c0" stroke-width="1.15"><rect x="0.7" y="0.9" width="8.6" height="8.4" rx="1.4"/><path d="M0.7 3.3H9.3" stroke-width="1.5"/></svg></span><span class="date">Jun 18, 11:59pm</span></div><div class="au"><svg width="12.5" height="9.6" viewBox="0 0 13 10" fill="none" stroke="#1e958a" stroke-width="1.1"><ellipse cx="4.65" cy="7.3" rx="4.1" ry="2.0"/><ellipse cx="4.4" cy="3.1" rx="2.1" ry="2.6" fill="#fff"/><path d="M10.4 1.0V4.4M8.7 2.7H12.1" stroke-width="1.4"/></svg></div></div><div class="card" style="left:654px;top:632.2px"><div class="bdg"><div class="pro">PRO-10</div><div class="badge" style="background:#4cadf0;color:#fff">WEB</div></div><div class="ttl">Affiliate Program</div><div class="meta"><span class="ai"><svg width="9.5" height="7.6" viewBox="0 0 10 8" fill="none" stroke="#8e909e" stroke-width="1.15" stroke-linecap="round" stroke-linejoin="round"><path d="M0.8 7.3V5.3C0.8 3.6 1.8 2.6 3.4 2.6H9.1"/><path d="M7 0.6L9.1 2.6L7 4.6"/></svg></span><span class="ver">V1.3</span><span class="ci"><svg width="10" height="10" viewBox="0 0 10 10" fill="none" stroke="#a5a7c0" stroke-width="1.15"><rect x="0.7" y="0.9" width="8.6" height="8.4" rx="1.4"/><path d="M0.7 3.3H9.3" stroke-width="1.5"/></svg></span><span class="date">Jun 18, 11:59pm</span></div><div class="au"><svg width="12.5" height="9.6" viewBox="0 0 13 10" fill="none" stroke="#1e958a" stroke-width="1.1"><ellipse cx="4.65" cy="7.3" rx="4.1" ry="2.0"/><ellipse cx="4.4" cy="3.1" rx="2.1" ry="2.6" fill="#fff"/><path d="M10.4 1.0V4.4M8.7 2.7H12.1" stroke-width="1.4"/></svg></div></div><div class="card" style="left:654px;top:728.7px"><div class="bdg"><div class="pro">PRO-9</div><div class="badge" style="background:#4cadf0;color:#fff">WEB</div></div><div class="ttl">Transactions</div><div class="meta"><span class="ai"><svg width="9.5" height="7.6" viewBox="0 0 10 8" fill="none" stroke="#8e909e" stroke-width="1.15" stroke-linecap="round" stroke-linejoin="round"><path d="M0.8 7.3V5.3C0.8 3.6 1.8 2.6 3.4 2.6H9.1"/><path d="M7 0.6L9.1 2.6L7 4.6"/></svg></span><span class="ver">V1.3</span><span class="ci"><svg width="10" height="10" viewBox="0 0 10 10" fill="none" stroke="#a5a7c0" stroke-width="1.15"><rect x="0.7" y="0.9" width="8.6" height="8.4" rx="1.4"/><path d="M0.7 3.3H9.3" stroke-width="1.5"/></svg></span><span class="date">Jun 18, 11:59pm</span></div><div class="au"><svg width="12.5" height="9.6" viewBox="0 0 13 10" fill="none" stroke="#1e958a" stroke-width="1.1"><ellipse cx="4.65" cy="7.3" rx="4.1" ry="2.0"/><ellipse cx="4.4" cy="3.1" rx="2.1" ry="2.6" fill="#fff"/><path d="M10.4 1.0V4.4M8.7 2.7H12.1" stroke-width="1.4"/></svg></div></div><div class="card" style="left:999px;top:177px"><div class="bdg"><div class="pro">PRO-3</div><div class="badge" style="background:#f26c5a;color:#fff">HIGH PRIORITY</div></div><div class="ttl done"><span class="cb"><svg width="12" height="10" viewBox="0 0 12 10" fill="none" stroke="#16a394" stroke-width="2.2" stroke-linecap="round" stroke-linejoin="round"><path d="M1.5 5.2L4.6 8.2L10.5 1.8"/></svg></span><s>Pabbly</s></div><div class="meta"><span class="ai"><svg width="9.5" height="7.6" viewBox="0 0 10 8" fill="none" stroke="#8e909e" stroke-width="1.15" stroke-linecap="round" stroke-linejoin="round"><path d="M0.8 7.3V5.3C0.8 3.6 1.8 2.6 3.4 2.6H9.1"/><path d="M7 0.6L9.1 2.6L7 4.6"/></svg></span><span class="ver">V1.2</span><span class="ci"><svg width="10" height="10" viewBox="0 0 10 10" fill="none" stroke="#a5a7c0" stroke-width="1.15"><rect x="0.7" y="0.9" width="8.6" height="8.4" rx="1.4"/><path d="M0.7 3.3H9.3" stroke-width="1.5"/></svg></span><span class="date">Jun 15, 11:59pm</span></div></div><div class="abs" style="left:999px;top:536px;width:315px;height:71px;border:1px solid #ebebf0;border-radius:4px;background:#fbfbfd;box-shadow:0 1px 2px rgba(30,30,60,.04)"><div class="abs" style="left:14px;top:13.5px;width:290px;font-size:14px;line-height:21px;color:#a2a4bc;letter-spacing:.4px">Drag tasks from another status or add a new task here...</div></div></body></html>
